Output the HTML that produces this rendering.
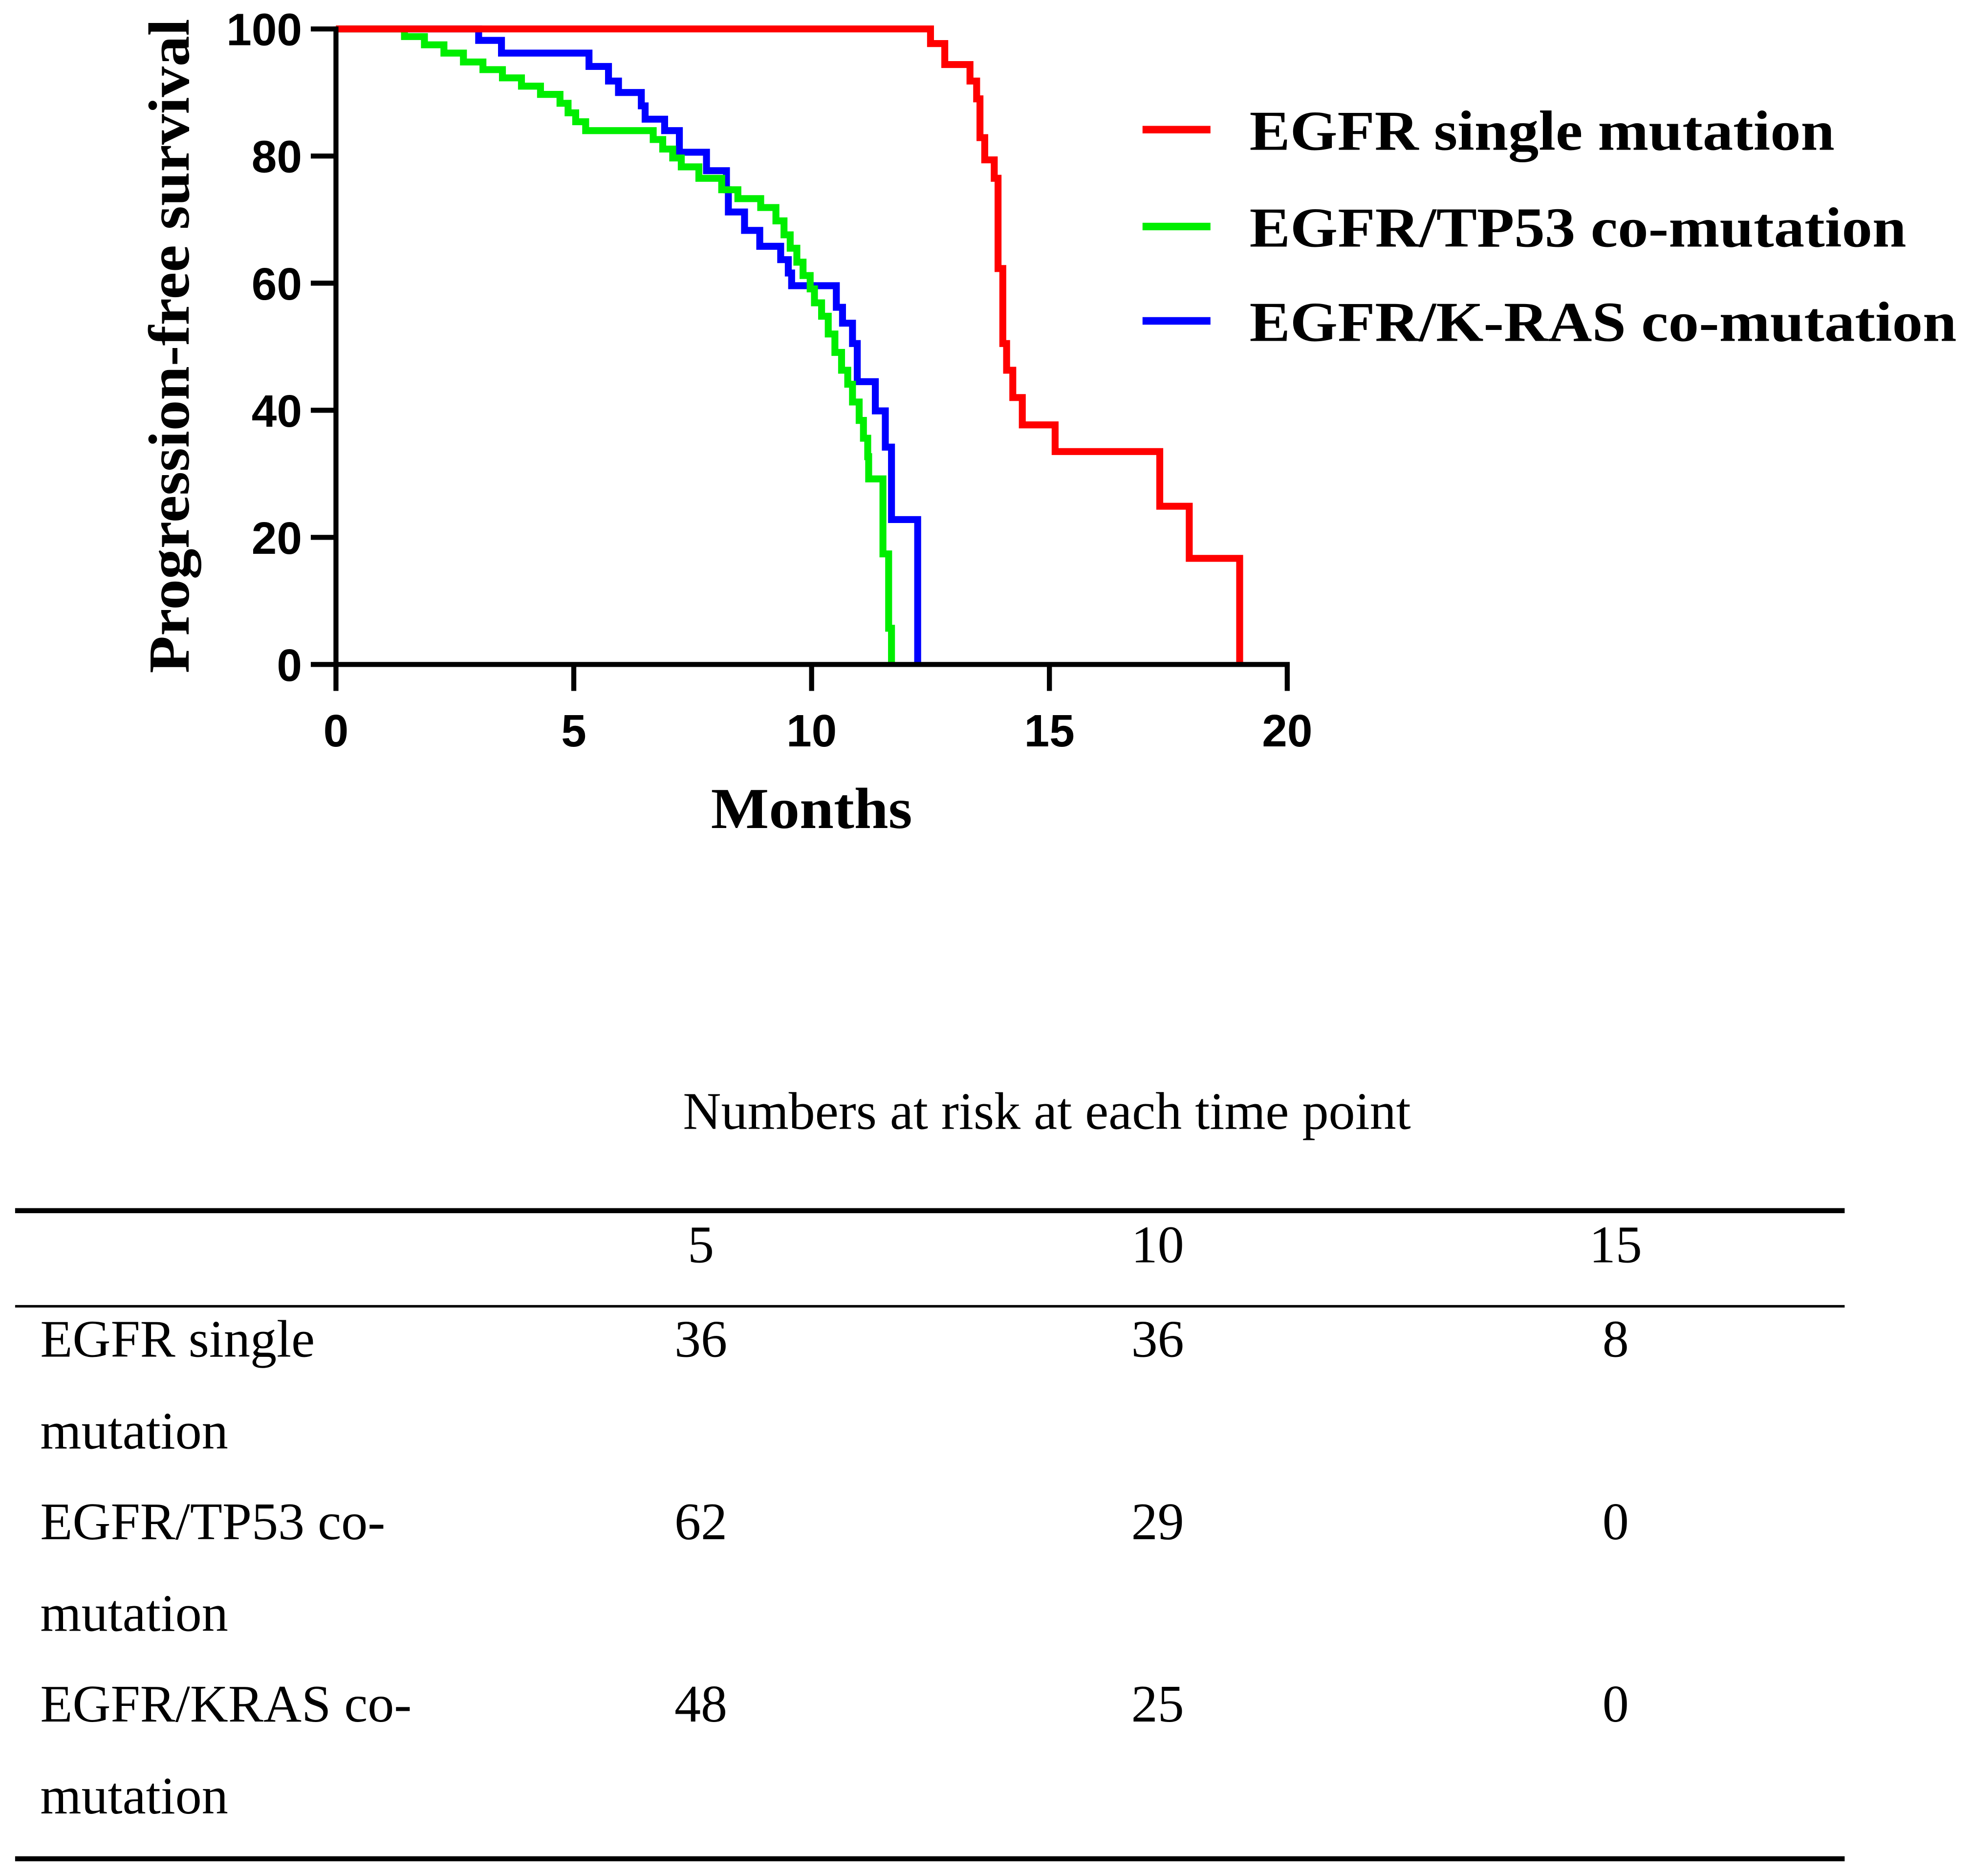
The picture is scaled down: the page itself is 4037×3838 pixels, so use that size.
<!DOCTYPE html>
<html><head><meta charset="utf-8"><style>
html,body{margin:0;padding:0;background:#fff}
svg{display:block}
</style></head><body>
<svg id="chart" width="4037" height="3838" viewBox="0 0 1568 1490.7" preserveAspectRatio="none" xmlns="http://www.w3.org/2000/svg">
<g id="plot"></g>
<g id="table" font-family="Liberation Serif, serif" font-size="42" fill="#000">
<text x="832" y="897" text-anchor="middle">Numbers at risk at each time point</text>
<line x1="12" x2="1466" y1="962" y2="962" stroke="#000" stroke-width="4"/>
<line x1="12" x2="1466" y1="1038" y2="1038" stroke="#000" stroke-width="2"/>
<line x1="12" x2="1466" y1="1477" y2="1477" stroke="#000" stroke-width="4"/>
<text x="557" y="1003" text-anchor="middle">5</text>
<text x="920" y="1003" text-anchor="middle">10</text>
<text x="1284" y="1003" text-anchor="middle">15</text>
<text x="32" y="1078">EGFR single</text>
<text x="32" y="1151">mutation</text>
<text x="557" y="1078" text-anchor="middle">36</text>
<text x="920" y="1078" text-anchor="middle">36</text>
<text x="1284" y="1078" text-anchor="middle">8</text>
<text x="32" y="1223">EGFR/TP53 co-</text>
<text x="32" y="1296">mutation</text>
<text x="557" y="1223" text-anchor="middle">62</text>
<text x="920" y="1223" text-anchor="middle">29</text>
<text x="1284" y="1223" text-anchor="middle">0</text>
<text x="32" y="1368">EGFR/KRAS co-</text>
<text x="32" y="1441">mutation</text>
<text x="557" y="1368" text-anchor="middle">48</text>
<text x="920" y="1368" text-anchor="middle">25</text>
<text x="1284" y="1368" text-anchor="middle">0</text>
</g>
</svg>
<script>
const xTicks = [0, 5, 10, 15, 20];
const yTicks = [0, 20, 40, 60, 80, 100];
const seriesNames = ["EGFR single mutation", "EGFR/TP53 co-mutation", "EGFR/K-RAS co-mutation"];
const seriesColors = ["#ff0000", "#00ee00", "#0000ff"];
const redTimes = [0, 12.5, 12.8, 13.33, 13.47, 13.54, 13.64, 13.84, 13.92, 14.02, 14.1, 14.23, 14.43, 15.12, 17.32, 17.94, 19.0];
const redSurv = [100, 97.7, 94.4, 91.8, 89, 82.9, 79.4, 76.5, 62.3, 50.5, 46.3, 42, 37.7, 33.5, 24.9, 16.7, 0];
const greenTimes = [0, 1.44, 1.86, 2.27, 2.68, 3.09, 3.5, 3.9, 4.3, 4.71, 4.88, 5.04, 5.25, 6.67, 6.87, 7.08, 7.26, 7.63, 8.11, 8.45, 8.93, 9.25, 9.42, 9.55, 9.69, 9.82, 9.97, 10.06, 10.21, 10.35, 10.49, 10.63, 10.76, 10.86, 11.0, 11.09, 11.18, 11.2, 11.5, 11.62, 11.68];
const greenSurv = [100, 98.8, 97.5, 96.2, 94.8, 93.6, 92.3, 91, 89.7, 88.3, 86.8, 85.4, 84, 82.6, 81.1, 79.7, 78.3, 76.5, 74.7, 73.3, 71.9, 69.8, 67.6, 65.5, 63.3, 61.2, 59.1, 56.9, 54.8, 52, 49.1, 46.3, 44.1, 41.3, 38.4, 35.6, 32.7, 29.2, 17.4, 5.7, 0];
const blueTimes = [0, 3.0, 3.48, 5.32, 5.73, 5.94, 6.42, 6.5, 6.91, 7.22, 7.79, 8.21, 8.25, 8.59, 8.91, 9.35, 9.51, 9.58, 10.52, 10.65, 10.86, 10.96, 11.34, 11.55, 11.68, 12.23];
const blueSurv = [100, 98.2, 96.2, 94.1, 91.8, 90, 87.9, 85.8, 84, 80.6, 77.7, 74.7, 71.2, 68.3, 65.8, 63.7, 61.6, 59.6, 56.2, 53.7, 50.5, 44.5, 39.9, 34.2, 22.8, 0];

const NS = "http://www.w3.org/2000/svg";
const X0 = 267, X1 = 1023, Y0 = 528, Y1 = 23;
function xs(m){ return X0 + (m - 0) / 20 * (X1 - X0); }
function ys(v){ return Y0 - v / 100 * (Y0 - Y1); }
const plot = document.getElementById('plot');
function mk(tag, attrs){ const e = document.createElementNS(NS, tag); for (const k in attrs) e.setAttribute(k, attrs[k]); return e; }

function stepPath(t, s){
  let d = 'M' + xs(t[0]) + ',' + ys(s[0]);
  for (let i = 1; i < t.length; i++){ d += ' H' + xs(t[i]) + ' V' + ys(s[i]); }
  return d;
}
const allT = [redTimes, greenTimes, blueTimes], allS = [redSurv, greenSurv, blueSurv];
const curveNames = ['curve-egfr-single', 'curve-egfr-tp53', 'curve-egfr-kras'];
[2, 1, 0].forEach(i => {
  const p = mk('path', {d: stepPath(allT[i], allS[i]), fill: 'none', stroke: seriesColors[i], 'stroke-width': 5.5, 'stroke-linejoin': 'miter', 'stroke-linecap': 'butt'});
  
  
  plot.appendChild(p);
});
const ax = mk('path', {d: 'M' + X0 + ',' + (Y1 - 2) + ' V' + Y0 + ' H' + (X1 + 2), fill: 'none', stroke: '#000', 'stroke-width': 4});


plot.appendChild(ax);
xTicks.forEach(v => {
  const l = mk('line', {x1: xs(v), x2: xs(v), y1: Y0, y2: Y0 + 21, stroke: '#000', 'stroke-width': 4});
  
  
  plot.appendChild(l);
  const t = mk('text', {x: xs(v), y: Y0 + 65, 'text-anchor': 'middle', 'font-family': 'Liberation Sans, sans-serif', 'font-weight': 'bold', 'font-size': 36});
  t.textContent = v;
  
  
  plot.appendChild(t);
});
yTicks.forEach(v => {
  const l = mk('line', {x1: X0 - 20, x2: X0, y1: ys(v), y2: ys(v), stroke: '#000', 'stroke-width': 4});
  
  
  plot.appendChild(l);
  const t = mk('text', {x: X0 - 27, y: ys(v) + 13, 'text-anchor': 'end', 'font-family': 'Liberation Sans, sans-serif', 'font-weight': 'bold', 'font-size': 36});
  t.textContent = v;
  
  
  plot.appendChild(t);
});
const xt = mk('text', {x: 645, y: 658, 'text-anchor': 'middle', 'font-family': 'Liberation Serif, serif', 'font-weight': 'bold', 'font-size': 46, textLength: 160, lengthAdjust: 'spacingAndGlyphs'});
xt.textContent = 'Months';


plot.appendChild(xt);
const yt = mk('text', {x: 0, y: 0, transform: 'translate(150,275) rotate(-90)', 'text-anchor': 'middle', 'font-family': 'Liberation Serif, serif', 'font-weight': 'bold', 'font-size': 46, textLength: 520, lengthAdjust: 'spacingAndGlyphs'});
yt.textContent = 'Progression-free survival';


plot.appendChild(yt);
const legY = [103, 180, 255], legW = [465, 522, 562];
for (let i = 0; i < 3; i++){
  const l = mk('line', {x1: 908, x2: 962, y1: legY[i], y2: legY[i], stroke: seriesColors[i], 'stroke-width': 6});
  
  
  plot.appendChild(l);
  const t = mk('text', {x: 993, y: legY[i] + 16, 'font-family': 'Liberation Serif, serif', 'font-weight': 'bold', 'font-size': 45, textLength: legW[i], lengthAdjust: 'spacingAndGlyphs'});
  t.textContent = seriesNames[i];
  
  
  plot.appendChild(t);
}
</script>
</body></html>
